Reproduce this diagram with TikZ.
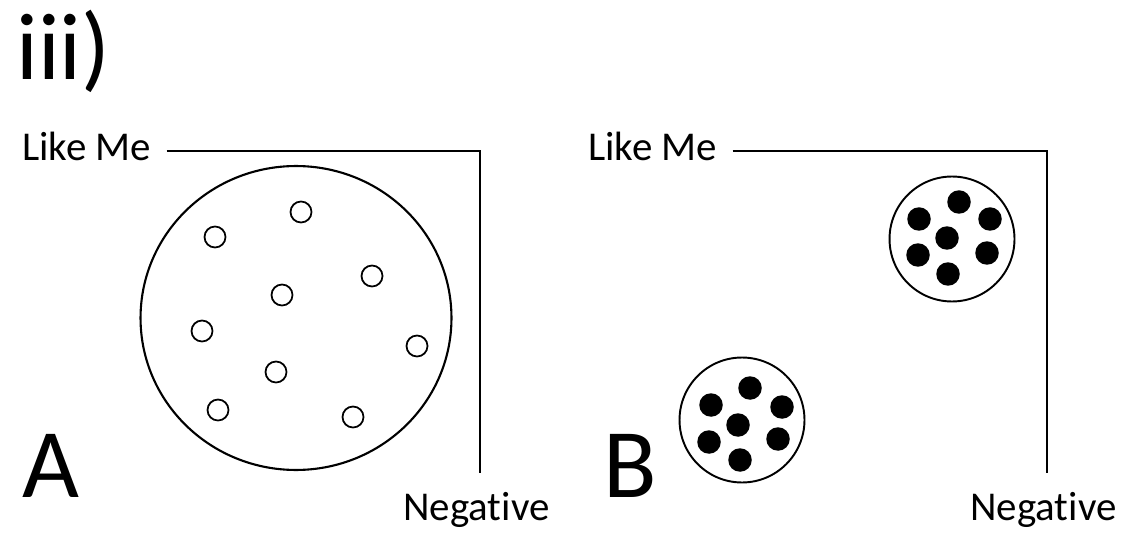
\documentclass[tikz,border=0pt]{standalone}
\usepackage{fontspec}
\setmainfont{Carlito}[Ligatures=NoCommon]
\usepackage{tikz}
\usetikzlibrary{shapes.geometric,positioning,calc}

\begin{document}
\begin{tikzpicture}[
    x=0.02cm, y=-0.02cm,
    axislabel/.style={inner sep=0pt, font=\fontsize{23.3}{26}\selectfont},
    panel/.style={inner sep=0pt, font=\fontsize{56}{60}\selectfont},
    frame/.style={draw=black, line width=1.4pt},
    bigring/.style={ellipse, draw=black, line width=1.2pt, minimum width=6.22cm, minimum height=6.08cm, inner sep=0pt},
    ring/.style={circle, draw=black, line width=1pt, minimum size=0.42cm, inner sep=0pt},
    cluster/.style={circle, draw=black, line width=1.1pt, minimum size=2.5cm, inner sep=0pt},
    dot/.style={circle, fill=black, minimum size=0.47cm, inner sep=0pt}
]
    \useasboundingbox (0,0) rectangle (1131,540);

    \node [panel, anchor=base west, font=\fontsize{54}{58}\selectfont] (title) at (16,80) {iii)};

    % panel A
    \node [axislabel, anchor=base west] (likeA) at (22,161) {Like Me};
    \node [axislabel, anchor=base west] (negA) at (403,520) {Negative};
    \node [panel, anchor=base west] (labA) at (22,497) {A};
    \coordinate (cornerA) at (480,151);
    \draw [frame] ($(likeA.east |- cornerA)+(15,0)$) -- (cornerA) -- ($(cornerA |- negA.north)+(0,-18)$);

    \node [bigring] (ringA) at (296,318) {};
    \node [ring] (a1) at (301,212) {};
    \node [ring] (a2) at (215,237) {};
    \node [ring] (a3) at (372,276) {};
    \node [ring] (a4) at (282,295) {};
    \node [ring] (a5) at (202,331) {};
    \node [ring] (a6) at (417,346) {};
    \node [ring] (a7) at (276,372) {};
    \node [ring] (a8) at (218,410) {};
    \node [ring] (a9) at (353,417) {};

    % panel B
    \node [axislabel, anchor=base west] (likeB) at (588,161) {Like Me};
    \node [axislabel, anchor=base west] (negB) at (970,520) {Negative};
    \node [panel, anchor=base west] (labB) at (603,497) {B};
    \coordinate (cornerB) at (1047,151);
    \draw [frame] ($(likeB.east |- cornerB)+(15,0)$) -- (cornerB) -- ($(cornerB |- negB.north)+(0,-18)$);

    \node [cluster] (upB) at (952,239) {};
    \node [dot] (u1) at (959,202) {};
    \node [dot] (u2) at (919,219) {};
    \node [dot] (u3) at (990,219) {};
    \node [dot] (u4) at (947,238) {};
    \node [dot] (u5) at (918,255) {};
    \node [dot] (u6) at (987,253) {};
    \node [dot] (u7) at (948,274) {};

    \node [cluster] (lowB) at (742,420) {};
    \node [dot] (l1) at (750,388) {};
    \node [dot] (l2) at (711,405) {};
    \node [dot] (l3) at (782,407) {};
    \node [dot] (l4) at (738,425) {};
    \node [dot] (l5) at (709,442) {};
    \node [dot] (l6) at (778,439) {};
    \node [dot] (l7) at (740,460) {};
\end{tikzpicture}
\end{document}
